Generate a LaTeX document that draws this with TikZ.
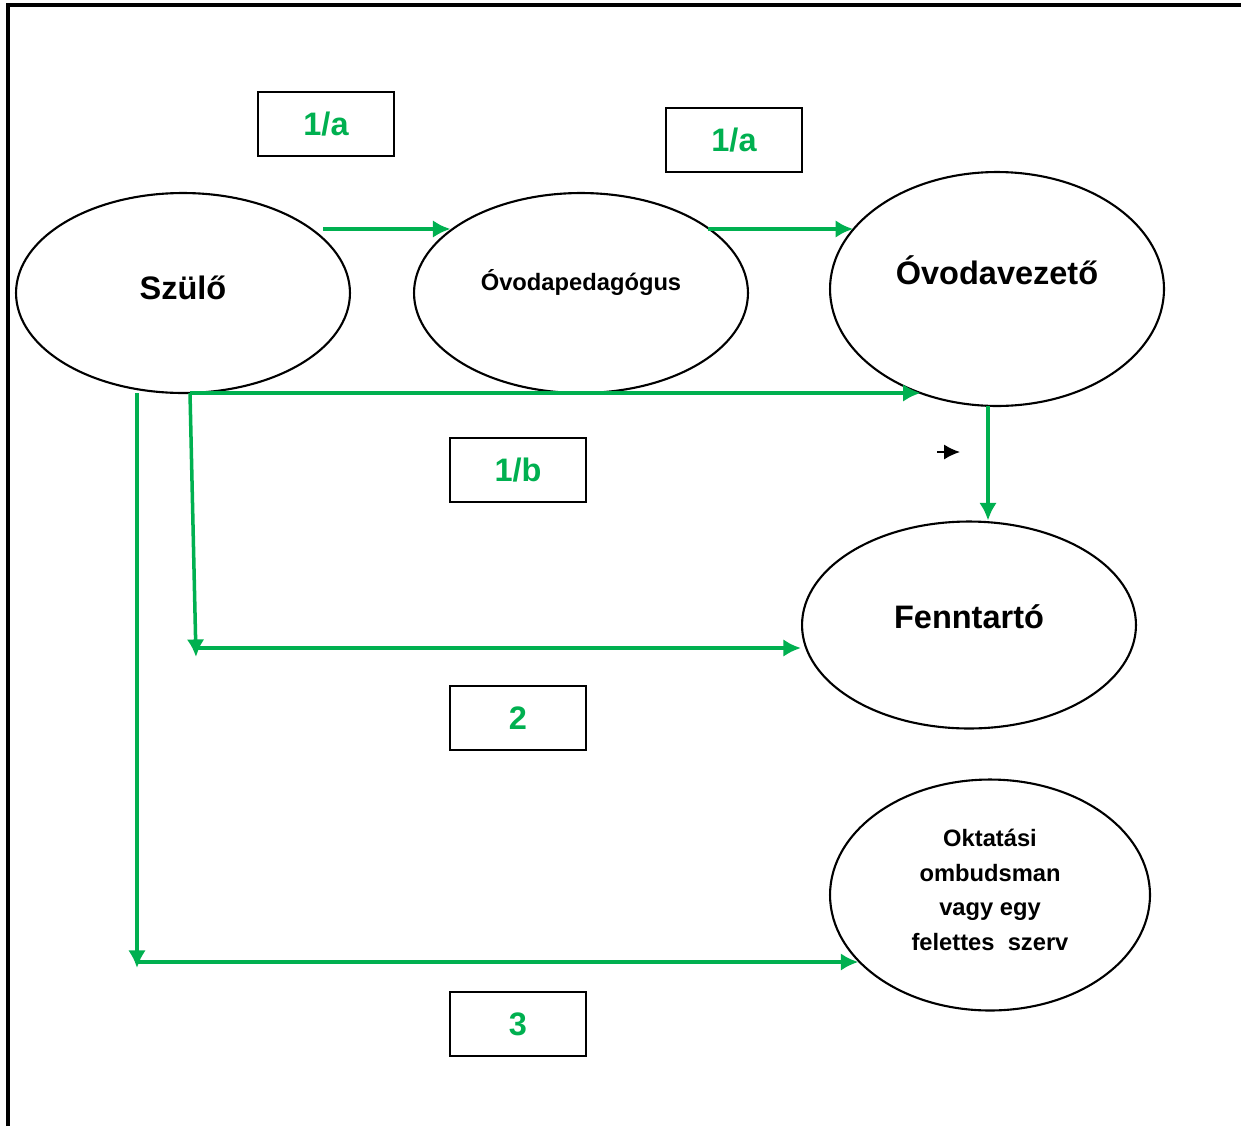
\documentclass[tikz,border=0pt]{standalone}
\usepackage{fontspec}
\setmainfont{Liberation Sans}
\usetikzlibrary{shapes.geometric,arrows.meta}
\definecolor{ofgreen}{RGB}{0,176,80}

\begin{document}
\begin{tikzpicture}[x=0.02cm,y=-0.02cm,>={Latex[length=10pt,width=10pt]},
        oval/.style={draw,ellipse,line width=1.2pt,inner sep=0pt},
        numbox/.style={draw,line width=0.9pt,minimum width=2.72cm,minimum height=1.28cm,
            text=ofgreen,font=\fontsize{18.5}{20}\selectfont\bfseries},
        arr/.style={->,ofgreen,line width=2pt},
        big/.style={font=\fontsize{18.5}{20}\selectfont\bfseries},
        small/.style={font=\fontsize{13.5}{19.8}\selectfont\bfseries,align=center}]
        \useasboundingbox (0,0) rectangle (1243,1126);
        \draw[line width=1.8pt] (8,1126)--(8,5)--(1241,5);
        % ellipses
        \node[oval,minimum width=6.68cm,minimum height=4cm] (szulo) at (183,293) {};
        \node[oval,minimum width=6.68cm,minimum height=4cm] (ovped) at (581,293) {};
        \node[oval,minimum width=6.68cm,minimum height=4.68cm] (vez) at (997,289) {};
        \node[oval,minimum width=6.68cm,minimum height=4.14cm] (fen) at (969,625) {};
        \node[oval,minimum width=6.4cm,minimum height=4.62cm] (okt) at (990,895) {};
        \node[big] (szulot) at (183,288) {Szülő};
        \node[small] (ovpedt) at (581,282) {Óvodapedagógus};
        \node[big] (vezt) at (997,270) {Óvodavezető};
        \node[big] (fent) at (969,617) {Fenntartó};
        \node[small] (oktt) at (990,890) {Oktatási\\ombudsman\\vagy egy\\felettes\ \ szerv};
        % boxes
        \node[numbox] (b1) at (326,124) {1/a};
        \node[numbox] (b2) at (734,140) {1/a};
        \node[numbox] (b3) at (518,470) {1/b};
        \node[numbox] (b4) at (518,718) {2};
        \node[numbox] (b5) at (518,1024) {3};
        % arrows
        \coordinate (s1) at (323,229);
        \draw[arr] (s1)--(s1 -| ovped.154);
        \coordinate (s2) at (708,229);
        \draw[arr] (s2)--(s2 -| vez.157);
        \coordinate (s3) at (190,393);
        \draw[arr] (s3)--(s3 -| vez.234);
        \coordinate (s4) at (196,657);
        \draw[arr] (s3)--(s4);
        \coordinate (s5) at (196,648);
        \draw[arr] (s5)--(s5 -| fen.west);
        \coordinate (s6) at (137,393);
        \coordinate (s7) at (137,968);
        \draw[arr] (s6)--(s7);
        \coordinate (s8) at (137,962);
        \draw[arr] (s8)--(s8 -| okt.207);
        \coordinate (s9) at (988,406);
        \draw[arr] (s9)--(s9 |- fen.north);
        \coordinate (k1) at (937,452);
        \coordinate (k2) at (960,452);
        \draw[line width=1pt,-{Latex[length=9pt,width=8.5pt]}] (k1)--(k2);
    \end{tikzpicture}
\end{document}
